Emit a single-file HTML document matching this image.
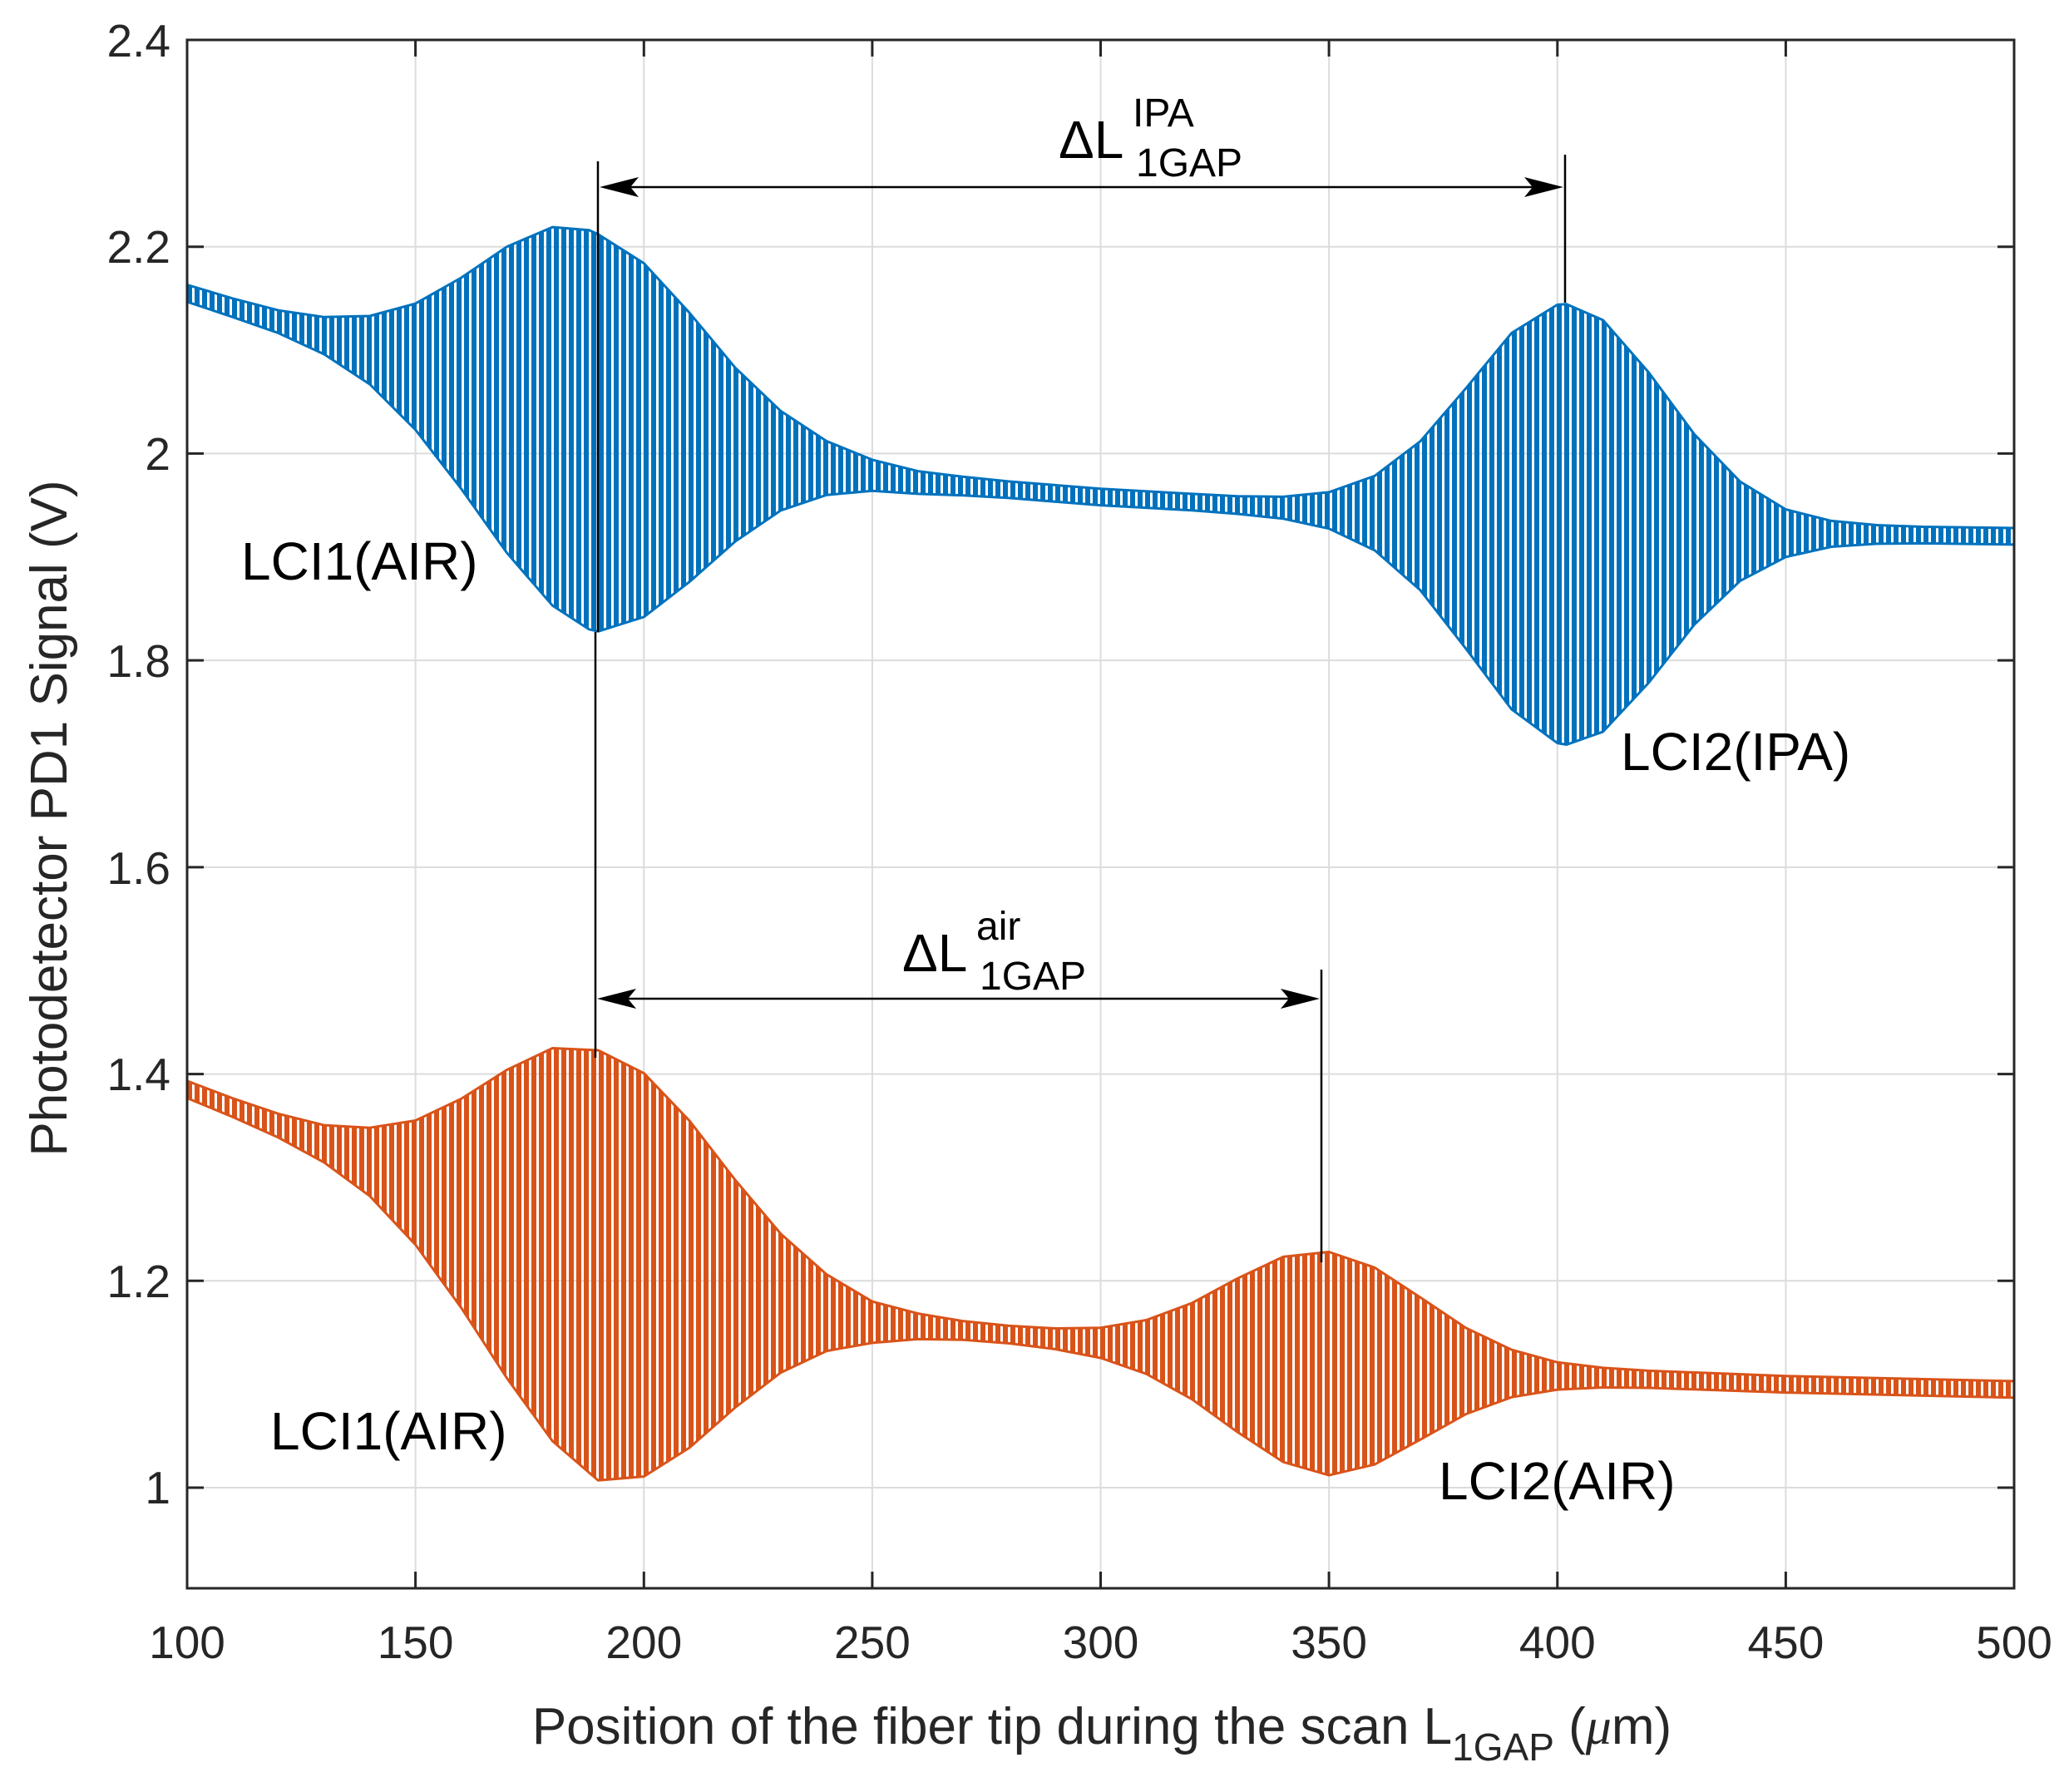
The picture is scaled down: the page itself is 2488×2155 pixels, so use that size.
<!DOCTYPE html>
<html><head><meta charset="utf-8"><style>
html,body{margin:0;padding:0;background:#fff;}
svg{display:block;font-family:"Liberation Sans",Arial,sans-serif;}
</style></head><body>
<svg width="2488" height="2155" viewBox="0 0 2488 2155" xmlns="http://www.w3.org/2000/svg">
<defs>
<pattern id="pb" width="9" height="20" patternUnits="userSpaceOnUse"><rect x="0" y="0" width="6" height="20" fill="#0072bd"/></pattern>
<pattern id="po" width="9" height="20" patternUnits="userSpaceOnUse"><rect x="0" y="0" width="6" height="20" fill="#d95319"/></pattern>
</defs>
<rect width="2488" height="2155" fill="#fff"/>
<g stroke="#dcdcdc" stroke-width="2">
<line x1="499.6" y1="48" x2="499.6" y2="1910"/><line x1="774.3" y1="48" x2="774.3" y2="1910"/>
<line x1="1048.9" y1="48" x2="1048.9" y2="1910"/><line x1="1323.5" y1="48" x2="1323.5" y2="1910"/>
<line x1="1598.1" y1="48" x2="1598.1" y2="1910"/><line x1="1872.8" y1="48" x2="1872.8" y2="1910"/>
<line x1="2147.4" y1="48" x2="2147.4" y2="1910"/>
<line x1="225" y1="296.7" x2="2422" y2="296.7"/><line x1="225" y1="545.4" x2="2422" y2="545.4"/>
<line x1="225" y1="794.1" x2="2422" y2="794.1"/><line x1="225" y1="1042.9" x2="2422" y2="1042.9"/>
<line x1="225" y1="1291.6" x2="2422" y2="1291.6"/><line x1="225" y1="1540.3" x2="2422" y2="1540.3"/>
<line x1="225" y1="1789" x2="2422" y2="1789"/>
</g>
<polygon fill="url(#pb)" stroke="#0072bd" stroke-width="3" stroke-linejoin="round" points="225,342.5 279.9,358.9 334.9,373.2 389.8,381.3 444.7,380 499.6,365.1 554.6,334 609.5,296.7 664.4,273.1 708.3,276.8 719.3,281.8 774.3,316.6 829.2,376.3 884.1,442.2 939,494.4 994,530.5 1048.9,552.9 1103.8,566.6 1158.7,573.4 1213.7,579 1323.5,587.7 1433.4,593.9 1488.3,596.7 1543.2,597.4 1598.1,591.9 1653.1,572.3 1708,530.7 1762.9,466.8 1817.8,400.4 1872.8,366.4 1883.8,365.7 1927.7,385 1982.6,447.9 2037.5,522.3 2092.5,579.2 2147.4,612.6 2202.3,626.4 2257.2,631.5 2312.2,633.5 2422,635 2422,654.9 2312.2,653.4 2257.2,653.9 2202.3,657.5 2147.4,669.8 2092.5,698.6 2037.5,751.1 1982.6,821 1927.7,879.9 1883.8,895.5 1872.8,893.6 1817.8,853.1 1762.9,780.2 1708,709.8 1653.1,661.8 1598.1,635.7 1543.2,623.8 1488.3,618 1433.4,613.8 1323.5,607.6 1213.7,598.9 1158.7,595.8 1103.8,593.9 1048.9,590.2 994,595.2 939,613.8 884.1,651.1 829.2,699.6 774.3,741.9 719.3,759.3 708.3,756.8 664.4,728.2 609.5,664.8 554.6,587.7 499.6,516.8 444.7,462.1 389.8,426 334.9,400.6 279.9,381.3 225,362.9"/>
<polygon fill="url(#po)" stroke="#d95319" stroke-width="3" stroke-linejoin="round" points="225,1299.9 279.9,1320.8 334.9,1339.4 389.8,1353.1 444.7,1356.2 499.6,1347.5 554.6,1321.4 609.5,1286.6 664.4,1260.5 719.3,1263 774.3,1290.6 829.2,1347.9 884.1,1419 939,1483.9 994,1532.6 1048.9,1565.2 1103.8,1579.6 1158.7,1588.8 1213.7,1594.4 1268.6,1597.5 1323.5,1596.7 1378.5,1587.5 1433.4,1567 1488.3,1537.3 1543.2,1511.4 1598.1,1505.5 1653.1,1524.4 1708,1560.3 1762.9,1597 1817.8,1623.2 1872.8,1638.3 1927.7,1644.9 1982.6,1648.4 2147.4,1654.7 2422,1660.9 2422,1680.8 2147.4,1674.6 1982.6,1669 1927.7,1668.5 1872.8,1671.1 1817.8,1680.2 1762.9,1700.5 1708,1731.2 1653.1,1761.1 1598.1,1774.1 1543.2,1758.2 1488.3,1722.3 1433.4,1682.7 1378.5,1652.2 1323.5,1633 1268.6,1622.4 1213.7,1615.5 1158.7,1611.2 1103.8,1610.4 1048.9,1614.9 994,1624.6 939,1650.6 884.1,1692.6 829.2,1740.9 774.3,1775.6 719.3,1780.3 664.4,1733 609.5,1657.2 554.6,1572.6 499.6,1496.8 444.7,1438.3 389.8,1397.9 334.9,1368 279.9,1343.2 225,1320.5"/>
<rect x="225" y="48" width="2197" height="1862" fill="none" stroke="#262626" stroke-width="3"/>
<g stroke="#262626" stroke-width="3">
<line x1="499.6" y1="1910" x2="499.6" y2="1890"/><line x1="774.3" y1="1910" x2="774.3" y2="1890"/>
<line x1="1048.9" y1="1910" x2="1048.9" y2="1890"/><line x1="1323.5" y1="1910" x2="1323.5" y2="1890"/>
<line x1="1598.1" y1="1910" x2="1598.1" y2="1890"/><line x1="1872.8" y1="1910" x2="1872.8" y2="1890"/>
<line x1="2147.4" y1="1910" x2="2147.4" y2="1890"/>
<line x1="499.6" y1="48" x2="499.6" y2="68"/><line x1="774.3" y1="48" x2="774.3" y2="68"/>
<line x1="1048.9" y1="48" x2="1048.9" y2="68"/><line x1="1323.5" y1="48" x2="1323.5" y2="68"/>
<line x1="1598.1" y1="48" x2="1598.1" y2="68"/><line x1="1872.8" y1="48" x2="1872.8" y2="68"/>
<line x1="2147.4" y1="48" x2="2147.4" y2="68"/>
<line x1="225" y1="296.7" x2="245" y2="296.7"/><line x1="225" y1="545.4" x2="245" y2="545.4"/>
<line x1="225" y1="794.1" x2="245" y2="794.1"/><line x1="225" y1="1042.9" x2="245" y2="1042.9"/>
<line x1="225" y1="1291.6" x2="245" y2="1291.6"/><line x1="225" y1="1540.3" x2="245" y2="1540.3"/>
<line x1="225" y1="1789" x2="245" y2="1789"/>
<line x1="2402" y1="296.7" x2="2422" y2="296.7"/><line x1="2402" y1="545.4" x2="2422" y2="545.4"/>
<line x1="2402" y1="794.1" x2="2422" y2="794.1"/><line x1="2402" y1="1042.9" x2="2422" y2="1042.9"/>
<line x1="2402" y1="1291.6" x2="2422" y2="1291.6"/><line x1="2402" y1="1540.3" x2="2422" y2="1540.3"/>
<line x1="2402" y1="1789" x2="2422" y2="1789"/>
</g>
<g fill="#262626" font-size="55" text-anchor="end">
<text x="205" y="68">2.4</text><text x="205" y="316">2.2</text><text x="205" y="565">2</text>
<text x="205" y="814">1.8</text><text x="205" y="1063">1.6</text><text x="205" y="1311">1.4</text>
<text x="205" y="1560">1.2</text><text x="205" y="1808">1</text>
</g>
<g fill="#262626" font-size="55" text-anchor="middle">
<text x="225" y="1994">100</text><text x="499.6" y="1994">150</text><text x="774.3" y="1994">200</text>
<text x="1048.9" y="1994">250</text><text x="1323.5" y="1994">300</text><text x="1598.1" y="1994">350</text>
<text x="1872.8" y="1994">400</text><text x="2147.4" y="1994">450</text><text x="2422" y="1994">500</text>
</g>
<g stroke="#000" stroke-width="2.5" fill="none">
<line x1="719" y1="194" x2="719" y2="760"/>
<line x1="716" y1="760" x2="716" y2="1272"/>
<line x1="1882" y1="186" x2="1882" y2="364"/>
<line x1="740" y1="225" x2="1862" y2="225"/>
<line x1="1589" y1="1166" x2="1589" y2="1518"/>
<line x1="738" y1="1201" x2="1568" y2="1201"/>
</g>
<g fill="#000">
<polygon points="721,225 768,213 758,225 768,237"/>
<polygon points="1880,225 1833,213 1843,225 1833,237"/>
<polygon points="718,1201 765,1189 755,1201 765,1213"/>
<polygon points="1587,1201 1540,1189 1550,1201 1540,1213"/>
</g>
<g fill="#000" font-size="64">
<text x="1273" y="190">ΔL</text><text x="1362" y="152" font-size="48">IPA</text><text x="1366" y="212" font-size="48">1GAP</text>
<text x="1085" y="1168">ΔL</text><text x="1174" y="1130" font-size="48">air</text><text x="1178" y="1190" font-size="48">1GAP</text>
<text x="290" y="697">LCI1(AIR)</text>
<text x="1949" y="926">LCI2(IPA)</text>
<text x="325" y="1743">LCI1(AIR)</text>
<text x="1730" y="1803">LCI2(AIR)</text>
</g>
<g fill="#262626" font-size="62">
<text x="1325" y="2097" text-anchor="middle">Position of the fiber tip during the scan L<tspan font-size="46" dy="20">1GAP</tspan><tspan dy="-20"> (</tspan><tspan font-family="Liberation Serif" font-style="italic">μ</tspan>m)</text>
<text transform="translate(80,984) rotate(-90)" text-anchor="middle">Photodetector PD1 Signal (V)</text>
</g>
</svg>
</body></html>
